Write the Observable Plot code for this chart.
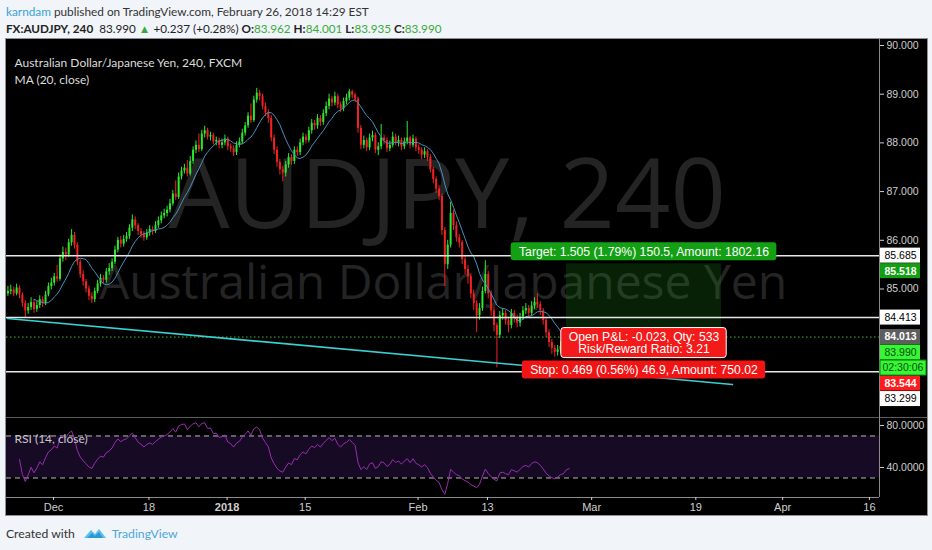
<!DOCTYPE html>
<html><head><meta charset="utf-8">
<script src="https://cdn.jsdelivr.net/npm/d3@7"></script>
<script src="https://cdn.jsdelivr.net/npm/@observablehq/plot@0.6"></script>
<style>
html,body{margin:0;padding:0;}
body{width:932px;height:550px;overflow:hidden;background:#f1f4f8;font-family:Lato,"Open Sans",sans-serif;position:relative;color:#222;}
#hdr1{position:absolute;left:6px;top:4px;font-size:11.8px;white-space:nowrap;color:#333;}
#hdr2{position:absolute;left:6px;top:21px;font-size:11.7px;white-space:nowrap;color:#222;}
#hdr1 .u{color:#3aa3d9;}
.g{color:#3aab3a;}
#chart{position:absolute;left:6px;top:39px;width:921px;height:476px;background:#000;box-shadow:0 0 0 1px #8d9095;}
#chart svg{display:block;}
#foot{position:absolute;left:6px;top:525px;font-size:12.2px;color:#333;white-space:nowrap;display:flex;align-items:center;}
#foot svg{margin-left:8px;}
#foot .tv{color:#4aa8dc;margin-left:5px;}
</style></head>
<body>
<div id="hdr1"></div>
<div id="hdr2"></div>
<div id="chart"></div>
<div id="foot">Created with<svg width="24" height="16" viewBox="0 0 24 16"><path d="M1 13 L8 5 L12 9 L16 4 L23 13 Z" fill="#5cc0ec"/><path d="M4 13 L9 8 L12 11 L16 7 L20 13 Z" fill="#2a9ad6"/></svg><span class="tv">TradingView</span></div>
<script>
// ---------- data ----------
const author = "karndam";
const published = "published on TradingView.com, February 26, 2018 14:29 EST";
const symbolTitle = "FX:AUDJPY, 240";
const lastBar = {o: 83.962, h: 84.001, l: 83.935, c: 83.990};
const change = 0.237, changePct = 0.28;
const paneTitle = "Australian Dollar/Japanese Yen, 240, FXCM";
const maTitle = "MA (20, close)";
const rsiTitle = "RSI (14, close)";
const watermark1 = "AUDJPY, 240";
const watermark2 = "Australian Dollar/Japanese Yen";

// 8-hour bars (3 per trading day)
const firstOpen = 84.90;
const closes = [
84.95,84.98,84.90,85.02,84.88,84.70,84.55,84.62,84.72,84.58,
84.66,84.78,84.70,84.88,85.05,85.12,85.25,85.20,85.62,85.75,
85.70,85.95,86.10,85.90,85.55,85.30,85.15,85.00,84.85,84.78,
84.95,85.10,85.22,85.18,85.35,85.42,85.55,85.80,86.00,85.92,
86.02,86.08,86.25,86.42,86.30,86.18,86.12,86.05,86.15,86.22,
86.18,86.30,86.40,86.50,86.55,86.62,86.75,86.95,86.88,87.30,
87.42,87.48,87.36,87.62,87.85,87.95,87.86,88.18,88.25,88.12,
88.15,88.02,88.05,87.95,88.00,88.08,87.92,87.88,87.80,87.95,
88.02,88.20,88.35,88.55,88.46,88.88,89.02,88.95,88.75,88.62,
88.50,88.10,87.85,87.60,87.45,87.38,87.55,87.70,87.62,87.85,
87.80,88.00,88.12,88.05,88.25,88.40,88.35,88.50,88.42,88.60,
88.75,88.90,88.82,88.95,88.78,88.70,88.85,88.92,89.05,88.98,
88.90,88.30,87.95,88.05,87.90,88.10,88.15,87.85,87.92,88.10,
88.05,87.88,87.95,88.12,88.00,88.05,87.92,88.02,88.10,87.95,
88.08,87.90,87.85,87.75,87.82,87.70,87.45,87.25,87.05,86.90,
86.20,85.50,85.90,86.55,86.30,86.05,85.95,85.60,85.40,85.25,
84.90,84.70,84.45,84.60,84.95,85.30,84.90,84.55,84.25,84.05,
84.45,84.50,84.35,84.25,84.50,84.40,84.30,84.42,84.55,84.60,
84.50,84.65,84.72,84.68,84.55,84.35,84.10,83.90,83.78,83.70,
83.75,83.82,83.85,83.962,83.99];
const highs = [
85.05,85.08,85.04,85.10,85.06,84.92,84.76,84.70,84.82,84.78,
84.74,84.86,84.84,84.95,85.12,85.22,85.32,85.48,85.70,85.86,
85.84,86.02,86.22,86.16,85.95,85.60,85.38,85.20,85.06,84.92,
85.02,85.18,85.30,85.28,85.42,85.52,85.62,85.88,86.06,86.08,
86.10,86.16,86.32,86.52,86.48,86.34,86.24,86.18,86.22,86.30,
86.28,86.38,86.48,86.58,86.64,86.70,86.84,87.02,87.22,87.38,
87.50,87.56,87.64,87.72,87.92,88.04,88.18,88.26,88.34,88.30,
88.22,88.20,88.12,88.10,88.08,88.16,88.12,87.98,87.94,88.02,
88.10,88.28,88.42,88.62,88.80,88.96,89.12,89.08,89.00,88.82,
88.68,88.56,88.16,87.92,87.66,87.52,87.62,87.78,87.76,87.92,
87.92,88.08,88.20,88.18,88.32,88.48,88.46,88.58,88.56,88.68,
88.84,89.00,88.96,89.04,89.00,88.84,88.92,89.00,89.10,89.08,
89.02,88.94,88.36,88.14,88.10,88.18,88.24,88.20,88.00,88.38,
88.16,88.10,88.04,88.22,88.18,88.14,88.10,88.10,88.44,88.14,
88.16,88.12,87.96,87.90,87.90,87.86,87.76,87.50,87.30,87.12,
86.95,86.26,86.00,86.78,86.62,86.38,86.12,86.00,85.68,85.48,
85.30,84.98,84.76,84.70,85.04,85.58,85.36,84.96,84.62,84.30,
84.54,84.60,84.56,84.42,84.58,84.56,84.46,84.50,84.64,84.70,
84.66,84.74,84.82,84.90,84.74,84.60,84.40,84.16,83.96,83.84,
83.84,83.92,83.94,84.00,84.001];
const lows = [
84.85,84.88,84.84,84.86,84.80,84.62,84.41,84.48,84.56,84.50,
84.52,84.60,84.62,84.66,84.84,84.98,85.06,85.14,85.16,85.55,
85.58,85.65,85.88,85.82,85.48,85.22,85.06,84.92,84.76,84.70,
84.72,84.90,85.04,85.10,85.12,85.28,85.36,85.50,85.74,85.84,
85.86,85.96,86.02,86.18,86.22,86.10,86.04,85.98,86.00,86.08,
86.10,86.14,86.24,86.34,86.44,86.48,86.56,86.70,86.82,86.84,
87.24,87.36,87.30,87.32,87.56,87.78,87.80,87.82,88.10,88.06,
88.04,87.96,87.94,87.88,87.88,87.94,87.84,87.80,87.72,87.74,
87.90,87.96,88.14,88.30,88.40,88.42,88.82,88.86,88.68,88.54,
88.40,88.02,87.76,87.50,87.34,87.20,87.30,87.48,87.54,87.56,
87.72,87.74,87.94,87.98,88.00,88.18,88.26,88.28,88.34,88.36,
88.54,88.68,88.74,88.76,88.70,88.62,88.64,88.78,88.86,88.90,
88.82,88.20,87.86,87.88,87.82,87.84,88.02,87.78,87.74,87.86,
87.96,87.80,87.82,87.90,87.94,87.92,87.84,87.86,87.96,87.88,
87.90,87.82,87.76,87.66,87.68,87.62,87.38,87.16,86.96,86.82,
86.10,85.05,85.40,85.84,86.20,85.96,85.84,85.50,85.30,85.10,
84.80,84.56,84.10,84.36,84.54,84.90,84.80,84.44,84.12,83.38,
83.98,84.36,84.26,84.10,84.18,84.30,84.20,84.22,84.36,84.48,
84.40,84.44,84.58,84.60,84.46,84.26,84.00,83.80,83.66,83.60,
83.62,83.68,83.76,83.80,83.935];

// time axis (trading-day slots, weekends and holidays removed)
const startDate = "2017-11-23";
const holidays = ["2017-12-25", "2018-01-01"];
const barsPerDay = 3;
const firstBarSlot = 0.583;
const tickDates = ["2017-12-01","2017-12-18","2018-01-02","2018-01-15","2018-02-01","2018-02-13","2018-03-01","2018-03-19","2018-04-02","2018-04-16"];
const tickLabels = ["Dec","18","2018","15","Feb","13","Mar","19","Apr","16"];
const boldTicks = ["2018"];

// drawings
const hLevels = [85.685, 84.413, 83.299];
const entry = 84.013, target = 85.518, stop = 83.544;
const positionSlots = [65.1, 82.96];
const trendSlots = [0.70, 84.22];
const trendPrices = [84.394, 83.04];
const targetText = "Target: 1.505 (1.79%) 150.5, Amount: 1802.16";
const pnlText = ["Open P&L: -0.023, Qty: 533", "Risk/Reward Ratio: 3.21"];
const stopText = "Stop: 0.469 (0.56%) 46.9, Amount: 750.02";

// right axis price tags
const tagValues = [85.685, 85.518, 84.413, 84.013, 83.990, 83.990, 83.544, 83.299];
const tagTexts  = ["85.685","85.518","84.413","84.013","83.990","02:30:06","83.544","83.299"];
const tagBg     = ["#ffffff","#12a012","#ffffff","#5e5e5e","#35f535","#35f535","#ff1c1c","#ffffff"];
const tagFg     = ["#000000","#ffffff","#000000","#ffffff","#0b4f0b","#0b4f0b","#ffffff","#000000"];
const tagBold   = [false,true,false,true,false,false,true,false];
const tagWide   = [false,false,false,false,false,true,false,false];

const priceTicks = [85, 86, 87, 88, 89, 90];
const rsiTicks = [40, 80];
const rsiBand = [30, 70];

// visible range
const viewSlots = [0.585, 101.16];
const viewPrice = [82.361, 90.123];
const viewRsi = [11.4, 87.6];

// ---------- header ----------
document.getElementById("hdr1").innerHTML = `<span class="u">${author}</span> ${published}`;
const f3 = d3.format(".3f");
document.getElementById("hdr2").innerHTML =
  `<b>${symbolTitle}</b>&nbsp; ${f3(lastBar.c)} <span class="g">▲</span> +${f3(change)} (+${changePct.toFixed(2)}%) ` +
  `<b>O:</b><span class="g">${f3(lastBar.o)}</span> <b>H:</b><span class="g">${f3(lastBar.h)}</span> ` +
  `<b>L:</b><span class="g">${f3(lastBar.l)}</span> <b>C:</b><span class="g">${f3(lastBar.c)}</span>`;

// ---------- derived ----------
function slotOf(s) {
  const d0 = new Date(startDate + "T00:00:00Z"), d1 = new Date(s + "T00:00:00Z");
  let n = 0;
  for (let t = new Date(d0); t < d1; t.setUTCDate(t.getUTCDate() + 1)) {
    const wd = t.getUTCDay(), iso = t.toISOString().slice(0, 10);
    if (wd !== 0 && wd !== 6 && !holidays.includes(iso)) n++;
  }
  return n;
}
const UP = "#2ee82e", DOWN = "#f22222";
const bars = closes.map((c, k) => {
  const open = k ? closes[k - 1] : firstOpen;
  return {slot: firstBarSlot + (k + 0.5) / barsPerDay, open, close: c, high: highs[k], low: lows[k], col: c >= open ? UP : DOWN};
});
// MA(20) on 4h bars spans 10 of these 8h bars; RSI length 14
const maWin = 20 / 2, rsiLen = 14, rsiWarmup = 5;
const ma = bars.map((b, k) => k < maWin - 1 ? null : {slot: b.slot, v: d3.mean(closes.slice(k - maWin + 1, k + 1))}).filter(d => d);
const series = [firstOpen, ...closes];
const rsi = [];
{
  let ag = 0, al = 0;
  for (let i = 1; i < series.length; i++) {
    const ch = series[i] - series[i - 1], g = Math.max(ch, 0), l = Math.max(-ch, 0);
    const n = Math.min(i, rsiLen);
    ag = (ag * (n - 1) + g) / n; al = (al * (n - 1) + l) / n;
    if (i >= rsiWarmup) rsi.push({slot: bars[i - 1].slot, v: al === 0 ? 100 : 100 - 100 / (1 + ag / al)});
  }
}
const trend = trendSlots.map((s, i) => ({slot: s, price: trendPrices[i]}));
const posMid = d3.mean(positionSlots);
const zones = [
  {x1: positionSlots[0], x2: positionSlots[1], y1: entry, y2: target, fill: "rgba(30,150,30,0.22)"},
  {x1: positionSlots[0], x2: positionSlots[1], y1: stop, y2: entry, fill: "rgba(200,30,30,0.25)"}
];

const W = 921, PH = 378, MR = 48;
const xMax = viewSlots[1];
const yPix = d3.scaleLinear(viewPrice, [PH, 0]);
let prev = -Infinity;
const tags = tagValues.map((v, i) => {
  const y = Math.max(yPix(v), prev + 15.5); prev = y;
  return {at: yPix.invert(y), text: tagTexts[i], bg: tagBg[i], fg: tagFg[i], bold: tagBold[i], wide: tagWide[i]};
});

const ctx = document.createElement("canvas").getContext("2d");
const LBL_SIZE = 12.2;
ctx.font = `${LBL_SIZE}px 'Liberation Sans', Arial, sans-serif`;
const tw = s => ctx.measureText(s).width;

function labelMarks(texts, y, fill, stroke, insetTop, insetBottom, dy) {
  const w = d3.max(texts, tw) + 15;
  return [
    Plot.rect([0], {x1: () => posMid, x2: () => posMid, y1: () => y, y2: () => y,
      insetLeft: -w / 2, insetRight: -w / 2, insetTop, insetBottom, rx: 3,
      fill, stroke: stroke || "none", strokeWidth: 1}),
    Plot.text([texts.join("\n")], {x: () => posMid, y: () => y, text: d => d, dy, lineHeight: 1,
      fill: "#fff", fontSize: LBL_SIZE, fontFamily: "Liberation Sans, Arial, sans-serif", textAnchor: "middle"})
  ];
}

const pricePlot = Plot.plot({
  width: W, height: PH, marginLeft: 0, marginRight: MR, marginTop: 0, marginBottom: 0,
  style: {background: "#000", color: "#cfcfcf", fontSize: "10.5px", fontFamily: "Liberation Sans, Arial, sans-serif"},
  x: {domain: viewSlots, axis: null},
  y: {domain: viewPrice},
  color: {type: "identity"},
  marks: [
    Plot.text([watermark1], {frameAnchor: "middle", dy: -31.5, dx: 4, text: d => d, fontSize: 97, fill: "#242424", fontFamily: "Open Sans"}),
    Plot.text([watermark2], {frameAnchor: "middle", dy: 55.5, text: d => d, fontSize: 48, fill: "#242424", fontFamily: "Open Sans"}),
    Plot.rect(zones, {x1: "x1", x2: "x2", y1: "y1", y2: "y2", fill: "fill"}),
    Plot.ruleX(bars, {x: "slot", y1: "low", y2: "high", stroke: "col", strokeWidth: 1}),
    Plot.ruleX(bars, {x: "slot", y1: "open", y2: "close", stroke: "col", strokeWidth: 2}),
    Plot.line(ma, {x: "slot", y: "v", stroke: "#4a8fc0", strokeWidth: 1}),
    Plot.ruleY(hLevels, {stroke: "#e8e8e8", strokeWidth: 1.5}),
    Plot.ruleY([entry], {stroke: "#3fbf3f", strokeWidth: 1, strokeDasharray: "1.5,2.5"}),
    Plot.line(trend, {x: "slot", y: "price", stroke: "#3ccfd2", strokeWidth: 1.6}),
    Plot.text([paneTitle], {frameAnchor: "top-left", dx: 8, dy: 19, text: d => d, fill: "#dcdcdc", fontSize: 12, fontFamily: "Lato", textAnchor: "start"}),
    Plot.text([maTitle], {frameAnchor: "top-left", dx: 8, dy: 36, text: d => d, fill: "#dcdcdc", fontSize: 12, fontFamily: "Lato", textAnchor: "start"}),
    ...labelMarks([targetText], target, "#14a014", null, -21, 3, -12),
    ...labelMarks(pnlText, entry, "#f41a1a", "#ffffff", -9, -21, 6),
    ...labelMarks([stopText], stop, "#f01414", null, 1, -19, 10),
    Plot.ruleX([xMax], {stroke: "#8a8a8a"}),
    Plot.axisY({anchor: "right", ticks: priceTicks, tickFormat: d3.format(".3f"), tickSize: 4, tickPadding: 3, label: null}),
    Plot.rect(tags.filter(d => !d.wide), {x1: () => xMax, x2: () => xMax, y1: "at", y2: "at", insetTop: -7.5, insetBottom: -7.5, insetLeft: 1, insetRight: -41, fill: "bg"}),
    Plot.rect(tags.filter(d => d.wide), {x1: () => xMax, x2: () => xMax, y1: "at", y2: "at", insetTop: -7.5, insetBottom: -7.5, insetLeft: 1, insetRight: -47, fill: "bg", stroke: "#0c8a0c"}),
    Plot.text(tags.filter(d => !d.bold && !d.wide), {x: () => xMax, y: "at", text: "text", dx: 5, textAnchor: "start", fill: "fg", fontSize: 10.5}),
    Plot.text(tags.filter(d => d.wide), {x: () => xMax, y: "at", text: "text", dx: 3, textAnchor: "start", fill: "fg", fontSize: 10.5}),
    Plot.text(tags.filter(d => d.bold), {x: () => xMax, y: "at", text: "text", dx: 5, textAnchor: "start", fill: "fg", fontSize: 10.5, fontWeight: "bold"})
  ]
});

const tickSlots = tickDates.map(slotOf);
const labelOf = new Map(tickSlots.map((s, i) => [s, tickLabels[i]]));
const rsiPlot = Plot.plot({
  width: W, height: 98, marginLeft: 0, marginRight: MR, marginTop: 0, marginBottom: 18,
  style: {background: "#000", color: "#cfcfcf", fontSize: "10.5px", fontFamily: "Liberation Sans, Arial, sans-serif"},
  x: {domain: viewSlots},
  y: {domain: viewRsi},
  marks: [
    Plot.rect([rsiBand], {x1: () => viewSlots[0], x2: () => viewSlots[1], y1: d => d[0], y2: d => d[1], fill: "#160a24"}),
    Plot.ruleY(rsiBand, {stroke: "#b9b9b9", strokeDasharray: "5,4", strokeWidth: 1}),
    Plot.line(rsi, {x: "slot", y: "v", stroke: "#9a2db0", strokeWidth: 1}),
    Plot.text([rsiTitle], {frameAnchor: "top-left", dx: 8, dy: 17, text: d => d, fill: "#c8c8c8", fontSize: 12, fontFamily: "Lato", textAnchor: "start"}),
    Plot.ruleY([viewRsi[1]], {stroke: "#5a5a5a", insetRight: -MR}),
    Plot.ruleY([viewRsi[0]], {stroke: "#8a8a8a"}),
    Plot.ruleX([xMax], {stroke: "#8a8a8a"}),
    Plot.axisY({anchor: "right", ticks: rsiTicks, tickFormat: d => d.toFixed(4), tickSize: 4, tickPadding: 3, label: null}),
    Plot.axisX({ticks: tickSlots.filter(s => !boldTicks.includes(labelOf.get(s))), tickFormat: s => labelOf.get(s), tickSize: 3, tickPadding: 3, label: null, fontSize: 11}),
    Plot.axisX({ticks: tickSlots.filter(s => boldTicks.includes(labelOf.get(s))), tickFormat: s => labelOf.get(s), tickSize: 3, tickPadding: 3, label: null, fontSize: 11, fontWeight: "bold"})
  ]
});

const chart = document.getElementById("chart");
chart.appendChild(pricePlot);
chart.appendChild(rsiPlot);
</script>
</body></html>
